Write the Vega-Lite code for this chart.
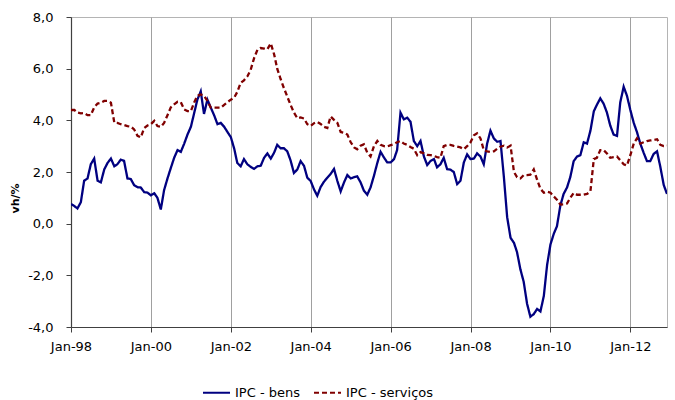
{
  "$schema": "https://vega.github.io/schema/vega-lite/v6.json",
  "width": 596,
  "height": 310,
  "autosize": {"type": "none"},
  "padding": {"left": 71, "top": 17, "right": 8, "bottom": 73},
  "config": {
    "font": "DejaVu Sans",
    "locale": {"number": {"decimal": ",", "thousands": ".", "grouping": [3], "currency": ["", " €"], "minus": "-"}},
    "view": {"stroke": "#b4b4b4", "strokeWidth": 1},
    "axis": {"labelFont": "DejaVu Sans", "labelFontSize": 13, "labelColor": "#000000", "domainColor": "#404040", "tickColor": "#404040", "domainWidth": 1.2, "tickWidth": 1}
  },
  "data": {"values": [
    {"d":"1998-01-01","IPC - bens":0.76,"IPC - serviços":4.4},
    {"d":"1998-02-01","IPC - bens":0.68,"IPC - serviços":4.4},
    {"d":"1998-03-01","IPC - bens":0.59,"IPC - serviços":4.3},
    {"d":"1998-04-01","IPC - bens":0.83,"IPC - serviços":4.27},
    {"d":"1998-05-01","IPC - bens":1.66,"IPC - serviços":4.28},
    {"d":"1998-06-01","IPC - bens":1.75,"IPC - serviços":4.2},
    {"d":"1998-07-01","IPC - bens":2.3,"IPC - serviços":4.2},
    {"d":"1998-08-01","IPC - bens":2.52,"IPC - serviços":4.5},
    {"d":"1998-09-01","IPC - bens":1.66,"IPC - serviços":4.65},
    {"d":"1998-10-01","IPC - bens":1.6,"IPC - serviços":4.68},
    {"d":"1998-11-01","IPC - bens":2.1,"IPC - serviços":4.75},
    {"d":"1998-12-01","IPC - bens":2.35,"IPC - serviços":4.75},
    {"d":"1999-01-01","IPC - bens":2.52,"IPC - serviços":4.68},
    {"d":"1999-02-01","IPC - bens":2.22,"IPC - serviços":3.91},
    {"d":"1999-03-01","IPC - bens":2.3,"IPC - serviços":3.9},
    {"d":"1999-04-01","IPC - bens":2.48,"IPC - serviços":3.85},
    {"d":"1999-05-01","IPC - bens":2.43,"IPC - serviços":3.82},
    {"d":"1999-06-01","IPC - bens":1.75,"IPC - serviços":3.78},
    {"d":"1999-07-01","IPC - bens":1.73,"IPC - serviços":3.76},
    {"d":"1999-08-01","IPC - bens":1.49,"IPC - serviços":3.65},
    {"d":"1999-09-01","IPC - bens":1.41,"IPC - serviços":3.4},
    {"d":"1999-10-01","IPC - bens":1.4,"IPC - serviços":3.34},
    {"d":"1999-11-01","IPC - bens":1.22,"IPC - serviços":3.7},
    {"d":"1999-12-01","IPC - bens":1.2,"IPC - serviços":3.8},
    {"d":"2000-01-01","IPC - bens":1.1,"IPC - serviços":3.85},
    {"d":"2000-02-01","IPC - bens":1.18,"IPC - serviços":3.98},
    {"d":"2000-03-01","IPC - bens":1.0,"IPC - serviços":3.78},
    {"d":"2000-04-01","IPC - bens":0.55,"IPC - serviços":3.75},
    {"d":"2000-05-01","IPC - bens":1.3,"IPC - serviços":3.9},
    {"d":"2000-06-01","IPC - bens":1.75,"IPC - serviços":4.2},
    {"d":"2000-07-01","IPC - bens":2.15,"IPC - serviços":4.5},
    {"d":"2000-08-01","IPC - bens":2.55,"IPC - serviços":4.62},
    {"d":"2000-09-01","IPC - bens":2.85,"IPC - serviços":4.72},
    {"d":"2000-10-01","IPC - bens":2.78,"IPC - serviços":4.7},
    {"d":"2000-11-01","IPC - bens":3.1,"IPC - serviços":4.42},
    {"d":"2000-12-01","IPC - bens":3.45,"IPC - serviços":4.36},
    {"d":"2001-01-01","IPC - bens":3.75,"IPC - serviços":4.36},
    {"d":"2001-02-01","IPC - bens":4.3,"IPC - serviços":4.7},
    {"d":"2001-03-01","IPC - bens":4.8,"IPC - serviços":4.95},
    {"d":"2001-04-01","IPC - bens":5.12,"IPC - serviços":5.0},
    {"d":"2001-05-01","IPC - bens":4.25,"IPC - serviços":4.95},
    {"d":"2001-06-01","IPC - bens":4.8,"IPC - serviços":4.75},
    {"d":"2001-07-01","IPC - bens":4.5,"IPC - serviços":4.5},
    {"d":"2001-08-01","IPC - bens":4.2,"IPC - serviços":4.49},
    {"d":"2001-09-01","IPC - bens":3.85,"IPC - serviços":4.49},
    {"d":"2001-10-01","IPC - bens":3.9,"IPC - serviços":4.49},
    {"d":"2001-11-01","IPC - bens":3.75,"IPC - serviços":4.6},
    {"d":"2001-12-01","IPC - bens":3.55,"IPC - serviços":4.7},
    {"d":"2002-01-01","IPC - bens":3.35,"IPC - serviços":4.8},
    {"d":"2002-02-01","IPC - bens":2.9,"IPC - serviços":4.88},
    {"d":"2002-03-01","IPC - bens":2.35,"IPC - serviços":5.1},
    {"d":"2002-04-01","IPC - bens":2.22,"IPC - serviços":5.45},
    {"d":"2002-05-01","IPC - bens":2.5,"IPC - serviços":5.55},
    {"d":"2002-06-01","IPC - bens":2.3,"IPC - serviços":5.7},
    {"d":"2002-07-01","IPC - bens":2.2,"IPC - serviços":5.95},
    {"d":"2002-08-01","IPC - bens":2.12,"IPC - serviços":6.4},
    {"d":"2002-09-01","IPC - bens":2.22,"IPC - serviços":6.73},
    {"d":"2002-10-01","IPC - bens":2.24,"IPC - serviços":6.8},
    {"d":"2002-11-01","IPC - bens":2.55,"IPC - serviços":6.78},
    {"d":"2002-12-01","IPC - bens":2.72,"IPC - serviços":6.75},
    {"d":"2003-01-01","IPC - bens":2.52,"IPC - serviços":6.98},
    {"d":"2003-02-01","IPC - bens":2.75,"IPC - serviços":6.55},
    {"d":"2003-03-01","IPC - bens":3.05,"IPC - serviços":6.0},
    {"d":"2003-04-01","IPC - bens":2.92,"IPC - serviços":5.6},
    {"d":"2003-05-01","IPC - bens":2.92,"IPC - serviços":5.25},
    {"d":"2003-06-01","IPC - bens":2.8,"IPC - serviços":4.92},
    {"d":"2003-07-01","IPC - bens":2.45,"IPC - serviços":4.6},
    {"d":"2003-08-01","IPC - bens":1.96,"IPC - serviços":4.3},
    {"d":"2003-09-01","IPC - bens":2.1,"IPC - serviços":4.08},
    {"d":"2003-10-01","IPC - bens":2.42,"IPC - serviços":4.11},
    {"d":"2003-11-01","IPC - bens":2.24,"IPC - serviços":4.07},
    {"d":"2003-12-01","IPC - bens":1.78,"IPC - serviços":3.85},
    {"d":"2004-01-01","IPC - bens":1.65,"IPC - serviços":3.78},
    {"d":"2004-02-01","IPC - bens":1.32,"IPC - serviços":3.89},
    {"d":"2004-03-01","IPC - bens":1.08,"IPC - serviços":3.94},
    {"d":"2004-04-01","IPC - bens":1.42,"IPC - serviços":3.86},
    {"d":"2004-05-01","IPC - bens":1.62,"IPC - serviços":3.75},
    {"d":"2004-06-01","IPC - bens":1.78,"IPC - serviços":3.7},
    {"d":"2004-07-01","IPC - bens":1.92,"IPC - serviços":4.15},
    {"d":"2004-08-01","IPC - bens":2.12,"IPC - serviços":4.02},
    {"d":"2004-09-01","IPC - bens":1.65,"IPC - serviços":3.9},
    {"d":"2004-10-01","IPC - bens":1.25,"IPC - serviços":3.55},
    {"d":"2004-11-01","IPC - bens":1.6,"IPC - serviços":3.52},
    {"d":"2004-12-01","IPC - bens":1.88,"IPC - serviços":3.45},
    {"d":"2005-01-01","IPC - bens":1.75,"IPC - serviços":3.15},
    {"d":"2005-02-01","IPC - bens":1.8,"IPC - serviços":2.95},
    {"d":"2005-03-01","IPC - bens":1.83,"IPC - serviços":2.88},
    {"d":"2005-04-01","IPC - bens":1.6,"IPC - serviços":3.02},
    {"d":"2005-05-01","IPC - bens":1.28,"IPC - serviços":3.07},
    {"d":"2005-06-01","IPC - bens":1.12,"IPC - serviços":2.75},
    {"d":"2005-07-01","IPC - bens":1.4,"IPC - serviços":2.6},
    {"d":"2005-08-01","IPC - bens":1.85,"IPC - serviços":3.0},
    {"d":"2005-09-01","IPC - bens":2.35,"IPC - serviços":3.2},
    {"d":"2005-10-01","IPC - bens":2.78,"IPC - serviços":3.05},
    {"d":"2005-11-01","IPC - bens":2.56,"IPC - serviços":3.0},
    {"d":"2005-12-01","IPC - bens":2.37,"IPC - serviços":2.99},
    {"d":"2006-01-01","IPC - bens":2.37,"IPC - serviços":3.04},
    {"d":"2006-02-01","IPC - bens":2.5,"IPC - serviços":3.08},
    {"d":"2006-03-01","IPC - bens":2.85,"IPC - serviços":3.15},
    {"d":"2006-04-01","IPC - bens":4.3,"IPC - serviços":3.2},
    {"d":"2006-05-01","IPC - bens":4.04,"IPC - serviços":3.1},
    {"d":"2006-06-01","IPC - bens":4.1,"IPC - serviços":3.05},
    {"d":"2006-07-01","IPC - bens":3.95,"IPC - serviços":2.97},
    {"d":"2006-08-01","IPC - bens":3.2,"IPC - serviços":2.9},
    {"d":"2006-09-01","IPC - bens":3.0,"IPC - serviços":2.65},
    {"d":"2006-10-01","IPC - bens":3.2,"IPC - serviços":2.77},
    {"d":"2006-11-01","IPC - bens":2.6,"IPC - serviços":2.72},
    {"d":"2006-12-01","IPC - bens":2.27,"IPC - serviços":2.66},
    {"d":"2007-01-01","IPC - bens":2.43,"IPC - serviços":2.65},
    {"d":"2007-02-01","IPC - bens":2.5,"IPC - serviços":2.62},
    {"d":"2007-03-01","IPC - bens":2.18,"IPC - serviços":2.58},
    {"d":"2007-04-01","IPC - bens":2.3,"IPC - serviços":2.55},
    {"d":"2007-05-01","IPC - bens":2.55,"IPC - serviços":3.0},
    {"d":"2007-06-01","IPC - bens":2.11,"IPC - serviços":3.05},
    {"d":"2007-07-01","IPC - bens":2.09,"IPC - serviços":3.05},
    {"d":"2007-08-01","IPC - bens":2.0,"IPC - serviços":3.01},
    {"d":"2007-09-01","IPC - bens":1.53,"IPC - serviços":2.98},
    {"d":"2007-10-01","IPC - bens":1.66,"IPC - serviços":2.95},
    {"d":"2007-11-01","IPC - bens":2.37,"IPC - serviços":2.88},
    {"d":"2007-12-01","IPC - bens":2.68,"IPC - serviços":3.0},
    {"d":"2008-01-01","IPC - bens":2.5,"IPC - serviços":3.15},
    {"d":"2008-02-01","IPC - bens":2.52,"IPC - serviços":3.42},
    {"d":"2008-03-01","IPC - bens":2.72,"IPC - serviços":3.5},
    {"d":"2008-04-01","IPC - bens":2.6,"IPC - serviços":3.3},
    {"d":"2008-05-01","IPC - bens":2.3,"IPC - serviços":2.85},
    {"d":"2008-06-01","IPC - bens":3.1,"IPC - serviços":2.8},
    {"d":"2008-07-01","IPC - bens":3.6,"IPC - serviços":2.78},
    {"d":"2008-08-01","IPC - bens":3.3,"IPC - serviços":2.8},
    {"d":"2008-09-01","IPC - bens":3.17,"IPC - serviços":2.9},
    {"d":"2008-10-01","IPC - bens":3.2,"IPC - serviços":2.98},
    {"d":"2008-11-01","IPC - bens":1.8,"IPC - serviços":3.02},
    {"d":"2008-12-01","IPC - bens":0.25,"IPC - serviços":2.95},
    {"d":"2009-01-01","IPC - bens":-0.55,"IPC - serviços":3.02},
    {"d":"2009-02-01","IPC - bens":-0.74,"IPC - serviços":2.0},
    {"d":"2009-03-01","IPC - bens":-1.1,"IPC - serviços":1.8},
    {"d":"2009-04-01","IPC - bens":-1.77,"IPC - serviços":1.75},
    {"d":"2009-05-01","IPC - bens":-2.25,"IPC - serviços":1.88},
    {"d":"2009-06-01","IPC - bens":-3.1,"IPC - serviços":1.88},
    {"d":"2009-07-01","IPC - bens":-3.6,"IPC - serviços":1.9},
    {"d":"2009-08-01","IPC - bens":-3.5,"IPC - serviços":2.1},
    {"d":"2009-09-01","IPC - bens":-3.3,"IPC - serviços":1.7},
    {"d":"2009-10-01","IPC - bens":-3.4,"IPC - serviços":1.35},
    {"d":"2009-11-01","IPC - bens":-2.8,"IPC - serviços":1.2},
    {"d":"2009-12-01","IPC - bens":-1.6,"IPC - serviços":1.24},
    {"d":"2010-01-01","IPC - bens":-0.8,"IPC - serviços":1.2},
    {"d":"2010-02-01","IPC - bens":-0.38,"IPC - serviços":1.05},
    {"d":"2010-03-01","IPC - bens":-0.1,"IPC - serviços":0.93},
    {"d":"2010-04-01","IPC - bens":0.7,"IPC - serviços":0.74},
    {"d":"2010-05-01","IPC - bens":1.15,"IPC - serviços":0.75},
    {"d":"2010-06-01","IPC - bens":1.4,"IPC - serviços":0.78},
    {"d":"2010-07-01","IPC - bens":1.8,"IPC - serviços":1.0},
    {"d":"2010-08-01","IPC - bens":2.42,"IPC - serviços":1.19},
    {"d":"2010-09-01","IPC - bens":2.6,"IPC - serviços":1.12},
    {"d":"2010-10-01","IPC - bens":2.65,"IPC - serviços":1.12},
    {"d":"2010-11-01","IPC - bens":3.15,"IPC - serviços":1.12},
    {"d":"2010-12-01","IPC - bens":3.1,"IPC - serviços":1.15},
    {"d":"2011-01-01","IPC - bens":3.6,"IPC - serviços":1.25},
    {"d":"2011-02-01","IPC - bens":4.35,"IPC - serviços":2.5},
    {"d":"2011-03-01","IPC - bens":4.6,"IPC - serviços":2.55},
    {"d":"2011-04-01","IPC - bens":4.85,"IPC - serviços":2.85},
    {"d":"2011-05-01","IPC - bens":4.65,"IPC - serviços":2.85},
    {"d":"2011-06-01","IPC - bens":4.3,"IPC - serviços":2.72},
    {"d":"2011-07-01","IPC - bens":3.8,"IPC - serviços":2.55},
    {"d":"2011-08-01","IPC - bens":3.45,"IPC - serviços":2.58},
    {"d":"2011-09-01","IPC - bens":3.4,"IPC - serviços":2.6},
    {"d":"2011-10-01","IPC - bens":4.7,"IPC - serviços":2.45},
    {"d":"2011-11-01","IPC - bens":5.3,"IPC - serviços":2.3},
    {"d":"2011-12-01","IPC - bens":4.95,"IPC - serviços":2.25},
    {"d":"2012-01-01","IPC - bens":4.4,"IPC - serviços":2.65},
    {"d":"2012-02-01","IPC - bens":3.9,"IPC - serviços":3.1},
    {"d":"2012-03-01","IPC - bens":3.55,"IPC - serviços":3.3},
    {"d":"2012-04-01","IPC - bens":3.1,"IPC - serviços":3.1},
    {"d":"2012-05-01","IPC - bens":2.75,"IPC - serviços":3.15},
    {"d":"2012-06-01","IPC - bens":2.42,"IPC - serviços":3.2},
    {"d":"2012-07-01","IPC - bens":2.42,"IPC - serviços":3.22},
    {"d":"2012-08-01","IPC - bens":2.7,"IPC - serviços":3.24},
    {"d":"2012-09-01","IPC - bens":2.8,"IPC - serviços":3.27},
    {"d":"2012-10-01","IPC - bens":2.2,"IPC - serviços":3.05},
    {"d":"2012-11-01","IPC - bens":1.5,"IPC - serviços":3.0},
    {"d":"2012-12-01","IPC - bens":1.15,"IPC - serviços":3.02}
  ]},
  "transform": [{"fold": ["IPC - bens", "IPC - serviços"], "as": ["serie", "valor"]}],
  "mark": {"type": "line", "strokeWidth": 2.3, "clip": true},
  "encoding": {
    "x": {
      "field": "d", "type": "temporal",
      "scale": {"type": "utc", "domain": [{"year": 1998, "month": 1, "date": 1, "utc": true}, {"year": 2012, "month": 12, "date": 1, "utc": true}]},
      "axis": {"labelExpr": "utcFormat(datum.value, '%b-%y')", "tickCount": {"interval": "year", "step": 2}, "title": null, "grid": true, "gridColor": "#a0a0a0", "gridWidth": 1, "tickSize": 5, "labelPadding": 8, "labelFlush": false}
    },
    "y": {
      "field": "valor", "type": "quantitative",
      "scale": {"domain": [-4, 8], "nice": false},
      "axis": {"values": [-4, -2, 0, 2, 4, 6, 8], "format": ".1f", "grid": false, "tickSize": 5, "labelPadding": 13, "title": "vh/%", "titleFontSize": 11, "titleFontWeight": "bold", "titleFont": "DejaVu Sans", "titleX": -51, "titleY": 181, "titleAlign": "center", "titleAngle": -90}
    },
    "color": {
      "field": "serie", "type": "nominal",
      "scale": {"domain": ["IPC - bens", "IPC - serviços"], "range": ["#000080", "#800000"]},
      "legend": {"orient": "none", "legendX": 131, "legendY": 361, "direction": "horizontal", "title": null, "symbolType": "stroke", "symbolSize": 729, "symbolStrokeWidth": 2, "labelFontSize": 13, "labelFont": "DejaVu Sans", "labelOffset": 4, "columnPadding": 10}
    },
    "strokeDash": {
      "field": "serie", "type": "nominal",
      "scale": {"domain": ["IPC - bens", "IPC - serviços"], "range": [[1, 0], [5, 3]]},
      "legend": {"orient": "none", "legendX": 131, "legendY": 361, "direction": "horizontal", "title": null, "symbolType": "stroke", "symbolSize": 729, "symbolStrokeWidth": 2, "labelFontSize": 13, "labelFont": "DejaVu Sans", "labelOffset": 4, "columnPadding": 10}
    }
  }
}
